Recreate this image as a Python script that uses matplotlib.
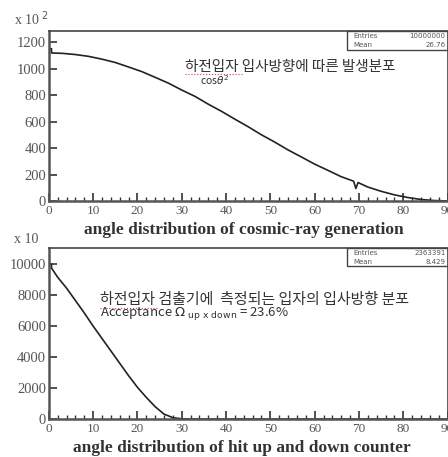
import matplotlib
matplotlib.use("Agg")
import matplotlib.pyplot as plt
from matplotlib.ticker import MultipleLocator
from matplotlib.patches import Rectangle

# 생성 분포 (단위: x10^2)
gen_angle = [0, 0.6, 0.6, 3, 6, 9, 12, 15, 18, 21, 24, 27, 30, 33, 36, 39, 42, 45,
             48, 51, 54, 57, 60, 63, 66, 68.8, 69.3, 69.8, 72, 75, 78, 81, 84, 87, 90]
gen_count = [1150, 1150, 1118, 1115, 1106, 1092, 1071, 1046, 1012, 977, 934, 890, 838,
             790, 731, 677, 618, 561, 500, 445, 386, 333, 279, 232, 184, 150, 95, 140,
             106, 74, 47, 27, 12, 4, 1]

# 상하 카운터 동시 검출 분포 (단위: x10)
hit_angle = [0, 0.6, 0.6, 2, 4, 6, 8, 10, 12, 14, 16, 18, 20, 22, 24, 26, 28, 30, 32, 90]
hit_count = [10000, 10000, 9750, 9150, 8450, 7650, 6850, 6000, 5200, 4400, 3600, 2800,
             2050, 1400, 800, 320, 90, 15, 0, 0]

gen_stats = ("10000000", "26.76")
hit_stats = ("2363391", "8.429")

serif = "Liberation Serif"
kr = ["Noto Sans CJK KR", "DejaVu Sans"]
gray = "#555555"

fig = plt.figure(figsize=(4.48, 4.57), dpi=100)
ax1 = fig.add_axes([0.109, 0.560, 0.890, 0.372])
ax2 = fig.add_axes([0.109, 0.083, 0.890, 0.374])


def style(ax, ymax, ystep):
    ax.set_xlim(0, 90)
    ax.set_ylim(0, ymax)
    ax.xaxis.set_major_locator(MultipleLocator(10))
    ax.xaxis.set_minor_locator(MultipleLocator(2))
    ax.yaxis.set_major_locator(MultipleLocator(ystep))
    ax.tick_params(axis="both", which="major", direction="in", length=6, width=1.2,
                   color="#333333", labelcolor=gray)
    ax.tick_params(axis="x", which="minor", direction="in", length=3, width=1.0,
                   color="#333333")
    ax.tick_params(axis="x", pad=3, labelsize=9.5)
    ax.tick_params(axis="y", pad=2, labelsize=10.5)
    for lab in ax.get_xticklabels() + ax.get_yticklabels():
        lab.set_family(serif)
    for side in ["left", "bottom"]:
        ax.spines[side].set_linewidth(1.8)
        ax.spines[side].set_color("#555555")
    for side in ["top", "right"]:
        ax.spines[side].set_linewidth(1.2)
        ax.spines[side].set_color("#444444")


def stats_box(ax, bottom, entries, mean):
    ax.add_patch(Rectangle((0.749, bottom), 0.251, 1 - bottom, transform=ax.transAxes,
                           fill=False, edgecolor="#444444", linewidth=1.0, clip_on=False))
    h = (1 - bottom) / 2
    ax.text(0.765, 1 - h * 0.5, "Entries", transform=ax.transAxes, fontsize=5,
            va="center", color="#555555")
    ax.text(0.995, 1 - h * 0.5, entries, transform=ax.transAxes, fontsize=5,
            va="center", ha="right", color="#555555")
    ax.text(0.765, 1 - h * 1.5, "Mean", transform=ax.transAxes, fontsize=5,
            va="center", color="#555555")
    ax.text(0.995, 1 - h * 1.5, mean, transform=ax.transAxes, fontsize=5,
            va="center", ha="right", color="#555555")


# 위쪽: 발생 분포
ax1.plot(gen_angle, gen_count, color="#222222", linewidth=1.2)
style(ax1, 1283, 200)
stats_box(ax1, 0.888, *gen_stats)
ax1.text(0.342, 0.79, "하전입자 입사방향에 따른 발생분포", transform=ax1.transAxes,
         family=kr, fontsize=10.5, color="#333333", va="center")
ax1.plot([0.342, 0.487], [0.748, 0.748], transform=ax1.transAxes, color="#d04040",
         linewidth=0.8, linestyle=":")
ax1.text(0.38, 0.71, r"cos$\theta^2$", transform=ax1.transAxes, family=kr,
         fontsize=7.5, color="#333333", va="center")
fig.text(0.031, 0.960, r"x 10$^{\ 2}$", family=serif, fontsize=10, color=gray, va="center")
fig.text(0.545, 0.497, "angle distribution of cosmic-ray generation", family=serif,
         fontsize=12.5, fontweight="bold", color="#333333", ha="center", va="center")

# 아래쪽: 검출 분포
ax2.plot(hit_angle, hit_count, color="#222222", linewidth=1.2)
style(ax2, 11030, 2000)
stats_box(ax2, 0.895, *hit_stats)
ax2.text(0.128, 0.696, "하전입자 검출기에  측정되는 입자의 입사방향 분포",
         transform=ax2.transAxes, family=kr, fontsize=10.8, color="#333333", va="center")
ax2.plot([0.128, 0.276], [0.652, 0.652], transform=ax2.transAxes, color="#d04040",
         linewidth=0.8, linestyle=":")
ax2.text(0.128, 0.615, r"Acceptance $\Omega$ $_{\rm up\ x\ down}$ = 23.6%",
         transform=ax2.transAxes, family=kr, fontsize=9.5, color="#333333", va="center")
fig.text(0.031, 0.475, "x 10", family=serif, fontsize=10, color=gray, va="center")
fig.text(0.54, 0.020, "angle distribution of hit up and down counter", family=serif,
         fontsize=12.5, fontweight="bold", color="#333333", ha="center", va="center")

fig.savefig("out.png", dpi=100)
